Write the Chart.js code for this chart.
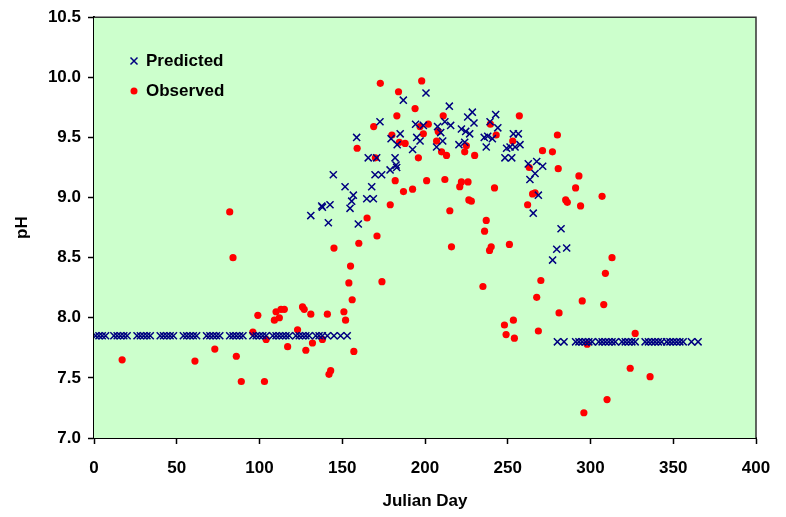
<!DOCTYPE html>
<html>
<head>
<meta charset="utf-8">
<script src="https://cdn.jsdelivr.net/npm/chart.js@4"></script>
<style>
  html, body { margin: 0; padding: 0; background: #fff; }
  #wrap { width: 786px; height: 517px; }
</style>
</head>
<body>
<div id="wrap"><canvas id="phChart"></canvas></div>
<script>
// Predicted pH - flat winter baseline, summer curve, flat autumn baseline
const predBase1Days = [1, 3, 5, 7, 12, 14, 16, 18, 20, 26, 28, 30, 32, 34, 40, 42, 44, 46, 48,
  54, 56, 58, 60, 62, 68, 70, 72, 74, 76, 82, 84, 86, 88, 90, 96, 98, 100, 102, 104,
  108, 110, 112, 114, 116, 118, 122, 124, 126, 128, 130, 134, 136, 138, 141, 145, 149, 153];
const predBase1PH = 7.85;

const predSummerDays = [131, 137.6, 138, 141.6, 142.6, 144.6, 151.7, 154.7, 155.7, 156.7, 158.7, 159.7,
  164.8, 165.7, 167.8, 168.8, 169.8, 170.8, 172.8, 173.8, 178.9, 179.5, 181.9, 182.5, 182.9, 183.2,
  185, 186.9, 192.5, 194.3, 195, 197, 199, 200.6, 207, 207.6, 209.5, 210.7, 212, 214.7, 215.5,
  220.5, 222, 224, 224.6, 225.8, 227, 228.6, 229.6, 235.8, 237, 237.9, 239.3, 240.7, 242.7, 244,
  248.3, 249.3, 251.4, 252.4, 253.4, 254.4, 256.4, 257.4, 262.4, 263.4, 265.4, 266.5, 267.5, 268.5,
  271.1, 277.1, 279.6, 282.2, 285.6];
const predSummerPH = [8.85, 8.93, 8.92, 8.79, 8.94, 9.19, 9.09, 8.91, 8.97, 9.02, 9.50, 8.78,
  8.99, 9.33, 9.09, 8.99, 9.19, 9.33, 9.63, 9.19, 9.23, 9.49, 9.33, 9.27, 9.25, 9.44,
  9.53, 9.81, 9.40, 9.61, 9.50, 9.47, 9.60, 9.87, 9.42, 9.59, 9.54, 9.47, 9.63, 9.76, 9.60,
  9.44, 9.57, 9.46, 9.55, 9.67, 9.53, 9.71, 9.62, 9.50, 9.42, 9.51, 9.63, 9.49, 9.69, 9.58,
  9.33, 9.41, 9.42, 9.33, 9.53, 9.42, 9.53, 9.44, 9.28, 9.15, 8.87, 9.20, 9.30, 9.02,
  9.26, 8.48, 8.57, 8.74, 8.58];

const predBase2Days = [280, 284, 291, 293, 295, 297, 299, 301, 305, 307, 309, 311, 313, 315,
  319, 321, 323, 325, 327, 333, 335, 337, 339, 341, 343, 346, 348, 350, 352, 354, 356, 361, 365];
const predBase2PH = 7.80;

// Observed pH
const obsDays = [17, 61, 73, 82, 84, 86, 89, 96, 99, 103, 104, 109, 110, 112, 113, 115, 117, 123,
  126, 127, 128, 131, 132, 138, 141, 142, 143, 145, 151, 152, 154, 155, 156, 157, 159, 160, 165,
  169, 170, 171, 173, 174, 179, 180, 182, 183, 184, 184.5, 187, 188, 192.5, 194, 196, 197, 198,
  199, 201, 202, 207, 208, 210, 211, 212, 213, 215, 216, 221, 222, 224, 225, 226, 226.5, 228, 230,
  235, 236, 237, 239, 239.5, 240, 242, 243, 248, 249, 251, 253, 253.4, 254, 257, 262, 263, 265,
  266.5, 267.5, 268.5, 270, 271, 277, 280, 280.5, 281, 285, 286, 291, 293, 294, 295, 296, 298,
  307, 308, 309, 310, 313, 324, 327, 336];
const obsPH = [7.65, 7.64, 7.74, 8.88, 8.50, 7.68, 7.47, 7.88, 8.02, 7.47, 7.82, 7.98, 8.05, 8.00,
  8.07, 8.07, 7.76, 7.90, 8.09, 8.07, 7.73, 8.03, 7.79, 7.82, 8.03, 7.53, 7.56, 8.58, 8.05, 7.98,
  8.29, 8.43, 8.15, 7.72, 9.41, 8.62, 8.83, 9.59, 9.33, 8.68, 9.95, 8.30, 8.94, 9.52, 9.14, 9.68,
  9.88, 9.46, 9.05, 9.45, 9.07, 9.74, 9.33, 9.59, 9.97, 9.53, 9.14, 9.61, 9.47, 9.55, 9.38, 9.68,
  9.15, 9.35, 8.89, 8.59, 9.09, 9.13, 9.38, 9.43, 9.13, 8.98, 8.97, 9.35, 8.26, 8.72, 8.81, 8.56,
  9.61, 8.59, 9.08, 9.52, 7.94, 7.86, 8.61, 9.47, 7.98, 7.83, 9.68, 8.94, 9.25, 9.03, 9.04, 8.17,
  7.89, 8.31, 9.39, 9.38, 9.52, 9.24, 8.04, 8.98, 8.96, 9.08, 9.18, 8.93, 8.14, 7.21, 7.78, 9.01,
  8.11, 8.37, 7.32, 8.50, 7.58, 7.87, 7.51];

const predPoints = []
  .concat(predBase1Days.map(d => ({ x: d, y: predBase1PH })))
  .concat(predSummerDays.map((d, i) => ({ x: d, y: predSummerPH[i] })))
  .concat(predBase2Days.map(d => ({ x: d, y: predBase2PH })));
const obsPoints = obsDays.map((d, i) => ({ x: d, y: obsPH[i] }));

const NAVY = '#000080';
const RED = '#ff0000';
const FONT = { family: '"Liberation Sans", Arial, sans-serif', size: 17, weight: 'bold' };

// green plot area, frame and the legend inside the plot
const plotDecor = {
  id: 'plotDecor',
  beforeDatasetsDraw(chart) {
    const { ctx, chartArea: a } = chart;
    ctx.save();
    ctx.fillStyle = '#ccffcc';
    ctx.fillRect(a.left, a.top, a.right - a.left, a.bottom - a.top);
    ctx.strokeStyle = '#333';
    ctx.lineWidth = 1.5;
    ctx.beginPath();
    ctx.moveTo(a.left, a.top);
    ctx.lineTo(a.right, a.top);
    ctx.lineTo(a.right, a.bottom);
    ctx.stroke();
    ctx.restore();
  },
  afterDraw(chart) {
    const { ctx, chartArea: a } = chart;
    ctx.save();
    ctx.font = 'bold 17px "Liberation Sans", Arial, sans-serif';
    ctx.textBaseline = 'middle';
    ctx.strokeStyle = NAVY;
    ctx.lineWidth = 1.5;
    ctx.beginPath();
    ctx.moveTo(a.left + 36.5, 57.5); ctx.lineTo(a.left + 43.5, 64.5);
    ctx.moveTo(a.left + 43.5, 57.5); ctx.lineTo(a.left + 36.5, 64.5);
    ctx.stroke();
    ctx.fillStyle = RED;
    ctx.beginPath();
    ctx.arc(a.left + 40, 91, 3.5, 0, Math.PI * 2);
    ctx.fill();
    ctx.fillStyle = '#000';
    ctx.fillText('Predicted', a.left + 52, 61);
    ctx.fillText('Observed', a.left + 52, 91);
    ctx.restore();
  }
};

const ctx = document.getElementById('phChart').getContext('2d');
new Chart(ctx, {
  type: 'scatter',
  data: {
    datasets: [
      {
        label: 'Predicted',
        data: predPoints,
        pointStyle: 'crossRot',
        pointRadius: 5,
        pointBorderWidth: 1.5,
        borderColor: NAVY,
        backgroundColor: NAVY
      },
      {
        label: 'Observed',
        data: obsPoints,
        pointStyle: 'circle',
        pointRadius: 3.6,
        pointBorderWidth: 0,
        borderColor: RED,
        backgroundColor: RED
      }
    ]
  },
  options: {
    responsive: true,
    maintainAspectRatio: false,
    animation: false,
    layout: { padding: { left: 0, top: 15, right: 30, bottom: 0 } },
    scales: {
      x: {
        type: 'linear',
        min: 0,
        max: 400,
        ticks: { stepSize: 50, color: '#000', font: FONT, padding: 14, maxRotation: 0 },
        grid: { drawOnChartArea: false, tickLength: 6, color: '#000', tickWidth: 1.5 },
        border: { color: '#000', width: 2 },
        title: { display: true, text: 'Julian Day', color: '#000', font: FONT, padding: { top: 12, bottom: 5 } },
        afterFit(scale) { scale.height = 79; }
      },
      y: {
        min: 7.0,
        max: 10.5,
        ticks: {
          stepSize: 0.5,
          color: '#000',
          font: FONT,
          padding: 7,
          callback: v => v.toFixed(1)
        },
        grid: { drawOnChartArea: false, tickLength: 6, color: '#000', tickWidth: 1.5 },
        border: { color: '#000', width: 2 },
        title: { display: true, text: 'pH', color: '#000', font: FONT, padding: { top: 12, bottom: 4 } },
        afterFit(scale) { scale.width = 94; }
      }
    },
    plugins: {
      legend: { display: false },
      tooltip: { enabled: false }
    }
  },
  plugins: [plotDecor]
});
</script>
</body>
</html>
